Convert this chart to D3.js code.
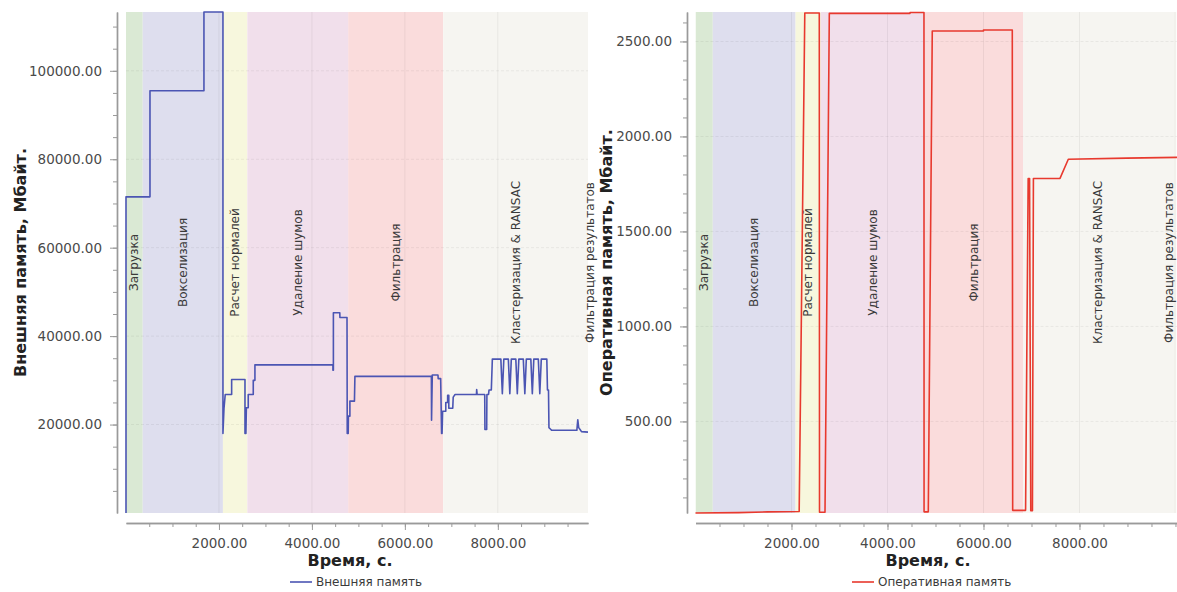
<!DOCTYPE html>
<html>
<head>
<meta charset="utf-8">
<script src="https://cdn.jsdelivr.net/npm/d3@7/dist/d3.min.js"></script>
<style>
  body { margin: 0; background: #ffffff; }
  svg { display: block; font-family: "DejaVu Sans", sans-serif; }
</style>
</head>
<body>
<svg id="chart" width="1177" height="592"></svg>
<script>
// ---- Processing stages (seconds) ----
const phaseNames = ["Загрузка", "Вокселизация", "Расчет нормалей", "Удаление шумов",
                    "Фильтрация", "Кластеризация & RANSAC", "Фильтрация результатов"];
const phaseStarts = [0, 360, 2085, 2610, 4780, 6825, 9965];
const phaseEnds   = [360, 2085, 2610, 4780, 6825, 9965, 10015];

// ---- External (disk) memory, Mbytes ----
const diskTime = [
  0, 0, 516, 516, 1677, 1677, 2086, 2086, 2108, 2108, 2135, 2135, 2273, 2273, 2560, 2560,
  2580, 2590, 2630, 2630, 2738, 2738, 2774, 2774, 4452, 4452, 4462, 4462, 4600, 4602, 4755, 4760,
  4781, 4785, 4817, 4817, 4915, 4925, 6570, 6574, 6590, 6712, 6717, 6770, 6790,
  6800, 6812, 6880, 6880, 6920, 6920, 6945, 6945, 7030, 7040, 7080, 7540, 7545, 7555, 7718, 7722, 7760, 7765,
  7800, 7810, 7860, 7882, 8065, 8097, 8129, 8226, 8258, 8290, 8387, 8419, 8452, 8548, 8581, 8613,
  8710, 8742, 8774, 8871, 8903, 8935, 9054, 9068, 9090, 9100, 9130, 9160, 9700, 9720, 9740, 9780, 9800, 9940
];
const diskMb = [
  0, 71500, 71500, 95500, 95500, 113300, 113300, 18000, 23600, 23600, 26800, 26800, 26800, 30200, 30200, 18000,
  18000, 23800, 23800, 26800, 26800, 30000, 30000, 33500, 33500, 32300, 32300, 45300, 45300, 44200, 44200, 18000,
  18000, 21900, 21900, 25300, 25300, 30900, 30900, 21000, 31200, 31200, 30400, 30400, 18000,
  18000, 23000, 23000, 25000, 25000, 26600, 26600, 23700, 23700, 26200, 26800, 26800, 27900, 26800, 26800, 18900, 18900, 26800,
  26800, 27800, 27800, 34800, 34800, 27000, 34800, 34800, 27000, 34800, 34800, 27000, 34800, 34800, 27000, 34800,
  34800, 27000, 34800, 34800, 27000, 34800, 34800, 27800, 27800, 19300, 19000, 18700, 18700, 21100, 19300, 18700, 18400, 18300
];

// ---- Operative (RAM) memory, Mbytes ----
const ramTime = [
  0, 900, 1500, 2160, 2277, 2579, 2584, 2698, 2788, 4470, 4470, 4760, 4762, 4850, 4933, 6000, 6000,
  6600, 6608, 6877, 6931, 6960, 6985, 7020, 7040, 7594, 7767, 8983, 10040
];
const ramMb = [
  18, 20, 24, 26, 2650, 2650, 22, 22, 2648, 2648, 2652, 2652, 24, 24, 2555, 2555, 2560,
  2560, 32, 32, 1779, 1779, 30, 30, 1779, 1779, 1880, 1886, 1890
];

// ---- Axis ticks ----
const timeTicks = [2000, 4000, 6000, 8000];
const diskTicks = [20000, 40000, 60000, 80000, 100000];
const ramTicks  = [500, 1000, 1500, 2000, 2500];

// ---- Styles ----
const phaseFill = ["#dae9d4", "#dedeee", "#f7f7dd", "#f1dfeb", "#fadcdc", "#f6f5f1", "#f2f1ec"];
const fmt = d3.format(".2f");

const svg = d3.select("#chart");

function drawPanel(cfg) {
  const x = d3.scaleLinear().domain([0, cfg.xMax]).range([cfg.left, cfg.right]);
  const y = d3.scaleLinear().domain(cfg.yDomain).range([cfg.bottom, cfg.top]);
  const g = svg.append("g");

  const clipId = "clip-" + cfg.id;
  svg.append("clipPath").attr("id", clipId)
    .append("rect").attr("x", cfg.left).attr("y", cfg.top)
    .attr("width", cfg.right - cfg.left).attr("height", cfg.bottom - cfg.top);

  // stage backgrounds
  const phases = phaseNames.map((name, i) => ({ name, s: phaseStarts[i], e: phaseEnds[i], fill: phaseFill[i] }));
  g.append("g").attr("clip-path", `url(#${clipId})`)
    .selectAll("rect").data(phases).join("rect")
    .attr("x", d => x(d.s)).attr("width", d => x(d.e) - x(d.s))
    .attr("y", cfg.top).attr("height", cfg.bottom - cfg.top)
    .attr("fill", d => d.fill);

  // grid
  const grid = g.append("g").attr("stroke", "rgba(0,0,0,0.06)").attr("stroke-width", 1);
  grid.selectAll("line.v").data(timeTicks).join("line").attr("class", "v")
    .attr("x1", d => x(d)).attr("x2", d => x(d)).attr("y1", cfg.top).attr("y2", cfg.bottom);
  grid.selectAll("line.h").data(cfg.yTicks).join("line").attr("class", "h")
    .attr("x1", cfg.left).attr("x2", cfg.right).attr("y1", d => y(d)).attr("y2", d => y(d))
    .attr("stroke-dasharray", "3,2");

  // stage labels (kept inside the panel's right edge)
  g.append("g").selectAll("text").data(phases).join("text")
    .attr("transform", d => {
      const cx = Math.min(x((d.s + d.e) / 2), cfg.labelMaxX);
      return `translate(${cx},${(cfg.top + cfg.bottom) / 2}) rotate(-90)`;
    })
    .attr("text-anchor", "middle").attr("dominant-baseline", "central")
    .attr("font-size", 12).attr("fill", "#3a3a3a")
    .text(d => d.name);

  // series line
  const pts = cfg.times.map((t, i) => [t, cfg.values[i]]);
  g.append("path").datum(pts)
    .attr("fill", "none").attr("stroke", cfg.color).attr("stroke-width", 1.6)
    .attr("stroke-linejoin", "round")
    .attr("d", d3.line().x(d => x(d[0])).y(d => y(d[1])));

  // y axis
  const yMinor = d3.range(Math.ceil(cfg.yDomain[0] / cfg.yMinorStep) * cfg.yMinorStep, cfg.yDomain[1] + 1, cfg.yMinorStep)
    .filter(v => v > cfg.yDomain[0] + 1);
  const yAxisG = g.append("g").attr("transform", `translate(${cfg.yAxisX},0)`);
  yAxisG.call(d3.axisLeft(y).tickValues(yMinor).tickSize(4).tickSizeOuter(0).tickFormat(""));
  yAxisG.append("g").call(d3.axisLeft(y).tickValues(cfg.yTicks).tickSize(7).tickSizeOuter(0)
    .tickPadding(8).tickFormat(fmt));

  // x axis
  const xMinor = d3.range(500, cfg.xMax, 500);
  const xAxisG = g.append("g").attr("transform", `translate(0,${cfg.xAxisY})`);
  xAxisG.call(d3.axisBottom(x).tickValues(xMinor).tickSize(4).tickSizeOuter(0).tickFormat(""));
  xAxisG.append("g").call(d3.axisBottom(x).tickValues(timeTicks).tickSize(7).tickSizeOuter(0)
    .tickPadding(8).tickFormat(fmt));

  g.selectAll(".domain").attr("stroke", "#9a9a9a").attr("stroke-width", 1.4);
  g.selectAll(".tick line").attr("stroke", "#9a9a9a");
  g.selectAll(".tick text").attr("font-size", 13.5).attr("fill", "#4a4a4a")
    .attr("font-family", "DejaVu Sans, sans-serif");

  // axis titles
  g.append("text")
    .attr("transform", `translate(${cfg.yTitleX},${(cfg.top + cfg.bottom) / 2}) rotate(-90)`)
    .attr("text-anchor", "middle").attr("dominant-baseline", "central")
    .attr("font-size", 16).attr("font-weight", "bold").attr("fill", "#222")
    .text(cfg.yTitle);
  g.append("text")
    .attr("x", cfg.xTitleX).attr("y", 566)
    .attr("text-anchor", "middle")
    .attr("font-size", 16).attr("font-weight", "bold").attr("fill", "#222")
    .text("Время, с.");

  // legend
  const lg = g.append("g").attr("transform", `translate(${cfg.legendX},582)`);
  lg.append("line").attr("x1", 0).attr("x2", 22).attr("y1", 0).attr("y2", 0)
    .attr("stroke", cfg.color).attr("stroke-width", 1.6);
  lg.append("text").attr("x", 26).attr("y", 0).attr("dominant-baseline", "central")
    .attr("font-size", 12).attr("fill", "#3a3a3a").text(cfg.legend);
}

drawPanel({
  id: "disk", left: 126, right: 588, top: 12, bottom: 513, xMax: 9940, labelMaxX: 591,
  yDomain: [0, 113300], yTicks: diskTicks, yMinorStep: 5000,
  yAxisX: 117, xAxisY: 523, times: diskTime, values: diskMb, color: "#4b55b3",
  yTitle: "Внешняя память, Мбайт.", yTitleX: 20, xTitleX: 350,
  legend: "Внешняя память", legendX: 290
});

drawPanel({
  id: "ram", left: 695.5, right: 1177.4, top: 12, bottom: 513, xMax: 10040, labelMaxX: 1169,
  yDomain: [18, 2655], yTicks: ramTicks, yMinorStep: 100,
  yAxisX: 687, xAxisY: 523, times: ramTime, values: ramMb, color: "#e8392e",
  yTitle: "Оперативная память, Мбайт.", yTitleX: 606, xTitleX: 928,
  legend: "Оперативная память", legendX: 852
});
</script>
</body>
</html>
